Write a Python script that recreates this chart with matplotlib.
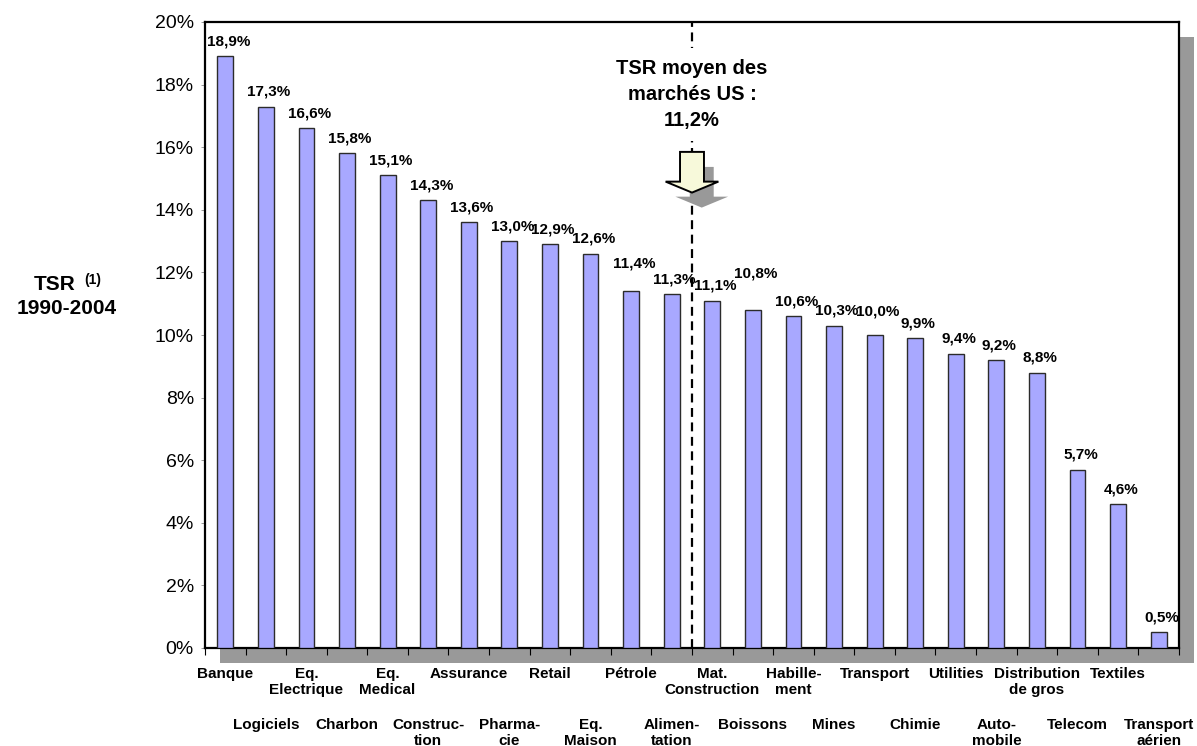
import matplotlib.pyplot as plt
from matplotlib.patches import Rectangle, Polygon
from matplotlib.ticker import FuncFormatter
import numpy as np

plt.rcParams['font.family'] = ['Liberation Sans', 'DejaVu Sans']

# TSR 1990-2004 by sector (%)
sectors = ['Banque', 'Logiciels', 'Eq.\nElectrique', 'Charbon', 'Eq.\nMedical',
           'Construc-\ntion', 'Assurance', 'Pharma-\ncie', 'Retail', 'Eq.\nMaison',
           'Pétrole', 'Alimen-\ntation', 'Mat.\nConstruction', 'Boissons',
           'Habille-\nment', 'Mines', 'Transport', 'Chimie', 'Utilities',
           'Auto-\nmobile', 'Distribution\nde gros', 'Telecom', 'Textiles',
           'Transport\naérien']
tsr = [18.9, 17.3, 16.6, 15.8, 15.1, 14.3, 13.6, 13.0, 12.9, 12.6, 11.4, 11.3,
       11.1, 10.8, 10.6, 10.3, 10.0, 9.9, 9.4, 9.2, 8.8, 5.7, 4.6, 0.5]
tsr_us_mean = 11.2
split_after = 12  # sectors above the US average

W, H = 1197, 746
fig = plt.figure(figsize=(W / 100, H / 100), dpi=100)
fig.patch.set_facecolor('white')

ax_left, ax_right, ax_top, ax_bottom = 205, 1179, 22, 648
ax = fig.add_axes([ax_left / W, 1 - ax_bottom / H,
                   (ax_right - ax_left) / W, (ax_bottom - ax_top) / H])
ax.set_facecolor('white')

# drop shadow behind the plot frame
shadow = Rectangle(((ax_left + 15) / W, 1 - (ax_bottom + 15) / H),
                   (ax_right - ax_left) / W, (ax_bottom - ax_top) / H,
                   transform=fig.transFigure, facecolor='#999999',
                   edgecolor='none', zorder=-1)
fig.patches.append(shadow)

x = np.arange(len(sectors))
ax.bar(x, tsr, width=0.39, color='#A8A8FF', edgecolor='#2b2b2b',
       linewidth=1.0, zorder=3)

ax.set_xlim(-0.5, len(sectors) - 0.5)
ax.set_ylim(0, 20)
ax.set_yticks(np.arange(0, 21, 2))
ax.yaxis.set_major_formatter(FuncFormatter(lambda v, _: f'{v:.0f}%'))
ax.tick_params(axis='y', labelsize=14, length=3, width=0.6, color='#888888',
               pad=5)
ax.set_xticks(np.arange(-0.5, len(sectors), 1.0))
ax.set_xticklabels([])
ax.tick_params(axis='x', length=5, width=0.8, color='black', direction='out')
for sp in ax.spines.values():
    sp.set_linewidth(1.6)
    sp.set_color('black')

# value labels above bars
label_lift = {10: 13, 13: 21, 16: 9}
for i, v in enumerate(tsr):
    ax.annotate(f'{v:.1f}%'.replace('.', ','), xy=(i, v),
                xytext=(3, 15 + label_lift.get(i, 0)),
                textcoords='offset pixels', ha='center', va='center',
                fontsize=11, fontweight='bold', zorder=5)

# sector names in two staggered rows
for i, name in enumerate(sectors):
    dy = -19 if i % 2 == 0 else -70
    ax.annotate(name, xy=(i, 0), xycoords=('data', 'axes fraction'),
                xytext=(0, dy), textcoords='offset pixels',
                ha='center', va='top', multialignment='center',
                fontsize=11, fontweight='bold', linespacing=1.15,
                annotation_clip=False)

# US market average divider
xm = split_after - 0.5
ax.axvline(xm, color='black', linewidth=1.6, linestyle=(0, (4, 2.5)), zorder=2)

ax.text(xm, 17.68, 'TSR moyen des\nmarchés US :\n' +
        f'{tsr_us_mean:.1f}%'.replace('.', ','),
        ha='center', va='center', fontsize=14.5, fontweight='bold',
        linespacing=1.45, zorder=6,
        bbox=dict(facecolor='white', edgecolor='none', pad=8))

# block arrow pointing down with its shadow
def arrow_pts(cx, top, neck, tip, shaft_w, head_w):
    return [(cx - shaft_w / 2, top), (cx + shaft_w / 2, top),
            (cx + shaft_w / 2, neck), (cx + head_w / 2, neck),
            (cx, tip), (cx - head_w / 2, neck), (cx - shaft_w / 2, neck)]

pts = arrow_pts(xm, 15.85, 14.9, 14.55, 0.59, 1.3)
shadow_pts = [(px + 0.24, py - 0.48) for px, py in pts]
ax.add_patch(Polygon(shadow_pts, closed=True, facecolor='#999999',
                     edgecolor='none', zorder=6))
ax.add_patch(Polygon(pts, closed=True, facecolor='#F7F9DA',
                     edgecolor='black', linewidth=1.4, zorder=7))

# y axis caption
fig.text(55 / W, 1 - 284 / H, 'TSR', ha='center', va='center',
         fontsize=15, fontweight='bold')
fig.text(93 / W, 1 - 280 / H, '(1)', ha='center', va='center',
         fontsize=10, fontweight='bold')
fig.text(67 / W, 1 - 309 / H, '1990-2004', ha='center', va='center',
         fontsize=15, fontweight='bold')

fig.savefig('out.png', dpi=100)
